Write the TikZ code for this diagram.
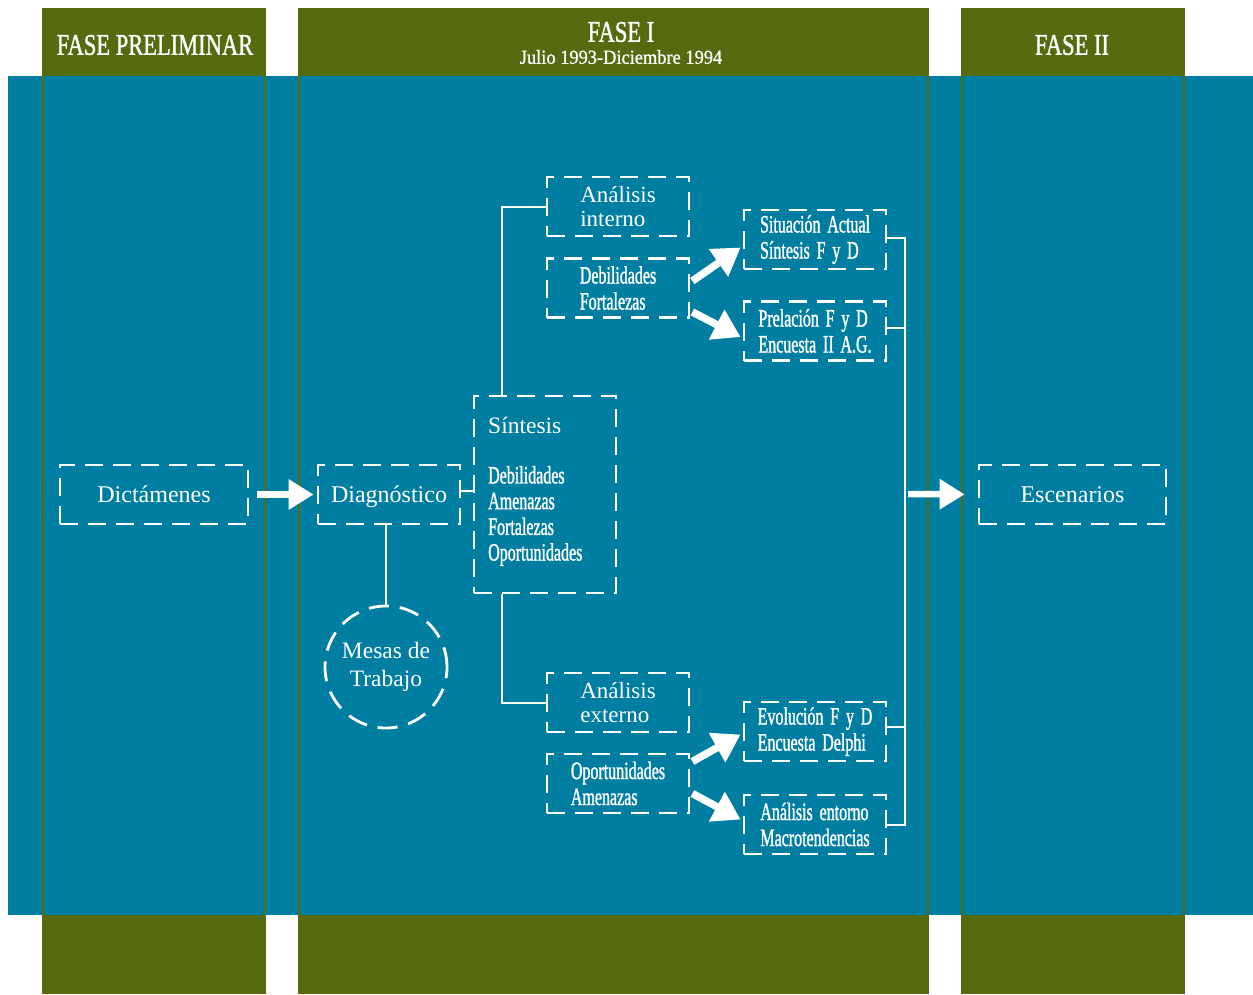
\documentclass[tikz,border=0pt]{standalone}
\usepackage{fontspec}
\setmainfont{Liberation Serif}
\newfontfamily\condfont[FakeStretch=0.64,FakeBold=1.2,WordSpace={1.7,1,1}]{Liberation Serif}
\newfontfamily\headfont[FakeStretch=0.75,FakeBold=1.2]{Liberation Serif}
\newfontfamily\subfont[FakeStretch=0.92,FakeBold=0.8]{Liberation Serif}
\usetikzlibrary{arrows.meta,calc}
\definecolor{bandblue}{RGB}{0,126,162}
\definecolor{olivec}{RGB}{86,106,16}
\begin{document}
\begin{tikzpicture}[x=1pt,y=-1pt,
  dbox/.style={draw=white, line width=2.8pt, dash pattern=on 18pt off 10pt, inner sep=0pt,
    text=white, align=left, minimum width=142pt, minimum height=59pt},
  normtxt/.style={font=\fontsize{23}{24}\selectfont},
  condtxt/.style={font=\condfont\fontsize{25}{26}\selectfont},
  conn/.style={draw=white, line width=2pt},
  bigarrow/.style={draw=white, line width=6.5pt, -{Triangle[length=25pt,width=29pt]}},
  diagarrow/.style={draw=white, line width=7.5pt, -{Triangle[length=27pt,width=32pt]}},
  headtxt/.style={text=white, inner sep=0pt},
  colline/.style={draw=olivec, line width=2pt}
]
\useasboundingbox (0,0) rectangle (1253,994);
% columns
\fill[olivec] (42,8) rectangle (266,994);
\fill[olivec] (298,8) rectangle (929,994);
\fill[olivec] (961,8) rectangle (1185,994);
% band
\fill[bandblue] (8,76) rectangle (1253,915);
\foreach \xx in {43,265,299,928,962,1184}{\draw[colline] (\xx,76) -- (\xx,915);}
% headings
\node[headtxt, font=\headfont\fontsize{30}{30}\selectfont] (hpre) at (155,45) {FASE PRELIMINAR};
\node[headtxt, font=\headfont\fontsize{30}{30}\selectfont] (hf1) at (621,32) {FASE I};
\node[headtxt, font=\subfont\fontsize{20}{20}\selectfont] (hdate) at (621,57) {Julio 1993-Diciembre 1994};
\node[headtxt, font=\headfont\fontsize{30}{30}\selectfont] (hf2) at (1072,45) {FASE II};
% boxes
\node[dbox, normtxt, font=\fontsize{24}{26}\selectfont, minimum width=188pt, text depth=0pt] (dic) at (154,494.5) {Dictámenes};
\node[dbox, normtxt, font=\fontsize{24}{26}\selectfont, text depth=0pt] (diag) at (389,494.5) {Diagnóstico};
\node[dbox, normtxt, font=\fontsize{24}{26}\selectfont, minimum width=187pt, text depth=0pt] (esc) at (1072.5,494.5) {Escenarios};
\node[dbox, minimum height=197pt] (sin) at (545,494.5) {};
\node[headtxt, anchor=west, font=\fontsize{23.5}{24}\selectfont] (sintit) at (488,425) {Síntesis};
\node[headtxt, anchor=west, align=left, font=\condfont\fontsize{25}{25.7}\selectfont] (sinlist) at (488,516) {Debilidades\\Amenazas\\Fortalezas\\Oportunidades};
\node[dbox, normtxt] (ai) at (618,206.5) {Análisis\\interno};
\node[dbox, condtxt] (df) at (618,288) {Debilidades\\Fortalezas};
\node[dbox, condtxt] (sit) at (815,239.5) {Situación Actual\\Síntesis F y D};
\node[dbox, condtxt] (pre) at (815,331) {Prelación F y D\\Encuesta II A.G.};
\node[dbox, normtxt] (ae) at (618,702.5) {Análisis\\externo};
\node[dbox, condtxt] (oa) at (618,783.5) {Oportunidades\\Amenazas};
\node[dbox, condtxt] (evo) at (815,731.5) {Evolución F y D\\Encuesta Delphi};
\node[dbox, condtxt] (ent) at (815,824.5) {Análisis entorno\\Macrotendencias};
\node[dbox, circle, minimum size=122pt, dash pattern=on 20pt off 11pt, align=center,
  font=\fontsize{23.5}{28}\selectfont] (mesas) at (386,667) {Mesas de\\Trabajo};
\coordinate (bus) at (905,494);
% connectors
\draw[bigarrow, shorten <=8pt, shorten >=3pt] (dic.east) -- (diag.west);
\draw[conn] ([yshift=4pt]diag.east) -- ([yshift=4pt]diag.east -| sin.west);
\draw[conn] (mesas.north |- diag.south) -- (mesas.north);
\draw[conn] ([xshift=29pt]sin.north west) |- (ai.west);
\draw[conn] ([xshift=29pt]sin.south west) |- (ae.west);
\draw[diagarrow] ([xshift=2pt,yshift=7pt]df.east) -- ([xshift=-2pt,yshift=-8pt]sit.west);
\draw[diagarrow] ([xshift=2pt,yshift=-24pt]df.east) -- ([xshift=-2pt,yshift=-6pt]pre.west);
\draw[diagarrow] ([xshift=2pt,yshift=22pt]oa.east) -- ([xshift=-2pt,yshift=-3pt]evo.west);
\draw[diagarrow] ([xshift=2pt,yshift=-10pt]oa.east) -- ([xshift=-2pt,yshift=5pt]ent.west);
\draw[conn] ([yshift=2pt]sit.east) -- ([yshift=2pt]sit.east -| bus) -- (ent.east -| bus) -- (ent.east);
\draw[conn] ([yshift=3pt]pre.east) -- ([yshift=3pt]pre.east -| bus);
\draw[conn] ([yshift=5pt]evo.east) -- ([yshift=5pt]evo.east -| bus);
\draw[bigarrow, shorten <=3pt, shorten >=13pt] (bus) -- (esc.west);
\end{tikzpicture}
\end{document}
